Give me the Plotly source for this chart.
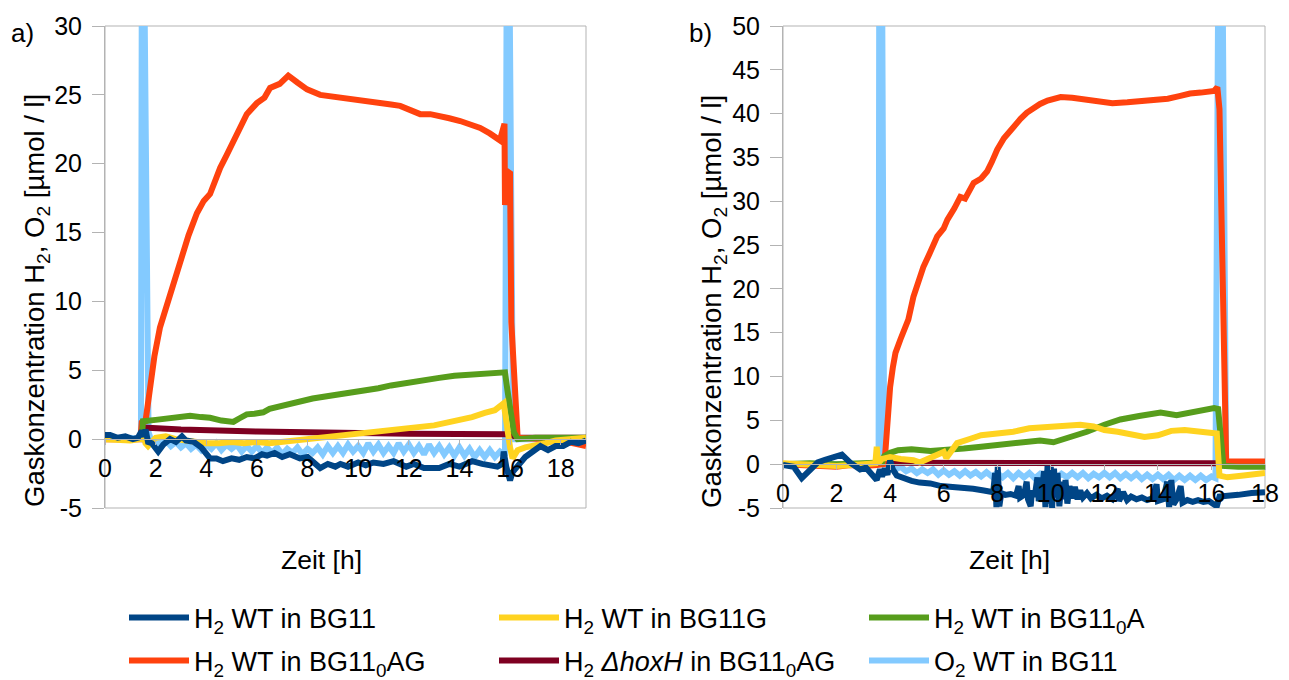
import plotly.graph_objects as go

# ---------------- data: panel a) ----------------
a_bg11_t = [0.0, 0.2, 0.5, 0.8, 1.1, 1.3, 1.45, 1.55, 1.6, 1.7, 1.85, 2.1, 2.3, 2.57, 2.8, 3.04, 3.2, 3.5, 3.8,
            4.15, 4.4, 4.66, 5.0, 5.3, 5.6, 5.9, 6.2, 6.4, 6.7, 7.0, 7.3, 7.7, 8.0, 8.5, 8.8, 9.1, 9.3, 9.6,
            10.0, 10.3, 10.6, 11.0, 11.4, 11.9, 12.2, 12.6, 13.2, 13.6, 14.0, 14.5, 14.9, 15.2, 15.5, 15.7,
            15.75, 15.85, 16.0, 16.1, 16.3, 16.6, 16.9, 17.2, 17.5, 17.8, 18.1, 18.4, 18.7, 19.0]
a_bg11_v = [0.3, 0.3, 0.1, 0.2, 0.0, 0.1, 0.6, 0.2, 0.7, -0.2, -0.3, -0.9, -0.4, 0.0, -0.2, 0.2, -0.1, -0.2, -0.6,
            -1.4, -1.4, -1.6, -1.4, -1.5, -1.3, -1.4, -1.1, -1.2, -1.0, -1.3, -1.1, -1.4, -1.3, -2.1, -1.8, -2.0,
            -1.8, -2.0, -1.7, -1.9, -1.7, -1.8, -1.6, -2.0, -1.8, -2.1, -2.1, -1.8, -2.0, -1.6, -1.8, -1.9, -2.0,
            -1.8, -0.9, -2.0, -3.0, -2.4, -2.0, -1.3, -0.9, -0.5, -0.8, -0.5, -0.5, -0.2, -0.3, -0.1]

a_bg11g_t = [0.0, 0.5, 1.0, 1.4, 1.5, 1.6, 1.7, 2.0, 2.4, 2.8, 3.2, 3.6, 4.0, 4.5, 5.0, 5.5, 6.0, 6.5, 7.0, 7.5,
             8.0, 8.5, 9.0, 9.5, 10.0, 10.5, 11.0, 11.5, 12.0, 12.5, 13.0, 13.5, 14.0, 14.5, 15.0, 15.4, 15.75,
             15.85, 16.0, 16.1, 16.3, 16.6, 17.0, 17.4, 17.8, 18.2, 18.6, 19.0]
a_bg11g_v = [0.0, -0.1, -0.1, 0.0, 0.5, -0.3, -0.5, 0.1, 0.2, 0.0, -0.1, -0.2, -0.3, -0.3, -0.2, -0.3, -0.2, -0.3,
             -0.2, -0.1, -0.1, 0.0, 0.1, 0.2, 0.3, 0.4, 0.5, 0.6, 0.7, 0.85, 1.0, 1.2, 1.35, 1.6, 1.9, 2.1, 2.6,
             1.0, -0.6, -1.4, -0.8, -0.6, -0.5, -0.3, -0.1, 0.0, 0.1, 0.1]

a_bg110a_t = [1.45, 1.5, 2.0, 2.4, 2.9, 3.36, 3.8, 4.15, 4.6, 5.07, 5.3, 5.6, 5.9, 6.25, 6.5, 6.9, 7.3, 7.7, 8.2,
              8.7, 9.3, 9.8, 10.3, 10.8, 11.3, 11.9, 12.5, 13.2, 13.8, 14.5, 15.2, 15.8, 15.9, 16.0, 16.15, 16.3,
              17.0, 18.0, 19.0]
a_bg110a_v = [0.0, 1.3, 1.4, 1.5, 1.65, 1.7, 1.6, 1.55, 1.35, 1.25, 1.5, 1.8, 1.85, 1.95, 2.2, 2.4, 2.6, 2.8,
              2.95, 3.1, 3.25, 3.4, 3.55, 3.7, 3.9, 4.1, 4.3, 4.45, 4.6, 4.7, 4.8, 4.85, 3.5, 2.0, 0.5, 0.0, 0.1,
              0.1, 0.1]

a_bg110ag_t = [0.0, 0.5, 1.0, 1.4, 1.45, 1.6, 1.78, 1.95, 2.17, 2.4, 2.57, 2.8, 3.04, 3.3, 3.63, 3.9, 4.15, 4.35,
               4.55, 4.8, 5.07, 5.3, 5.6, 5.8, 6.0, 6.3, 6.52, 6.9, 7.24, 7.6, 7.98, 8.5, 8.9, 9.29, 9.7, 10.08,
               10.5, 10.87, 11.3, 11.66, 12.05, 12.45, 12.85, 13.24, 13.6, 14.03, 14.4, 14.82, 15.2, 15.6, 15.78,
               15.8, 15.85, 16.0, 16.05, 16.3, 16.6, 17.0, 17.5, 18.0, 18.5, 19.0]
a_bg110ag_v = [0.0, 0.0, 0.0, 0.0, 1.2, 1.3, 3.7, 6.0, 8.1, 9.5, 10.6, 12.0, 13.5, 14.8, 16.4, 17.3, 17.8, 18.8,
               19.7, 20.6, 21.7, 22.5, 23.6, 24.0, 24.4, 24.8, 25.5, 25.8, 26.4, 25.9, 25.4, 25.0, 24.9, 24.9,
               24.8, 24.7, 24.6, 24.5, 24.3, 24.2, 23.9, 23.6, 23.6, 23.5, 23.3, 23.1, 22.9, 22.6, 22.2, 21.7,
               22.9, 17.0, 19.5, 19.3, 8.5, 0.1, 0.1, 0.0, 0.0, -0.1, -0.3, -0.5]

a_hoxh_t = [1.5, 3.0, 6.0, 9.0, 12.0, 15.9, 16.0, 16.3, 19.0]
a_hoxh_v = [0.85, 0.7, 0.55, 0.45, 0.4, 0.35, 0.35, 0.1, 0.1]

a_o2_t = [0.0, 0.5, 1.0, 1.42, 1.46, 1.52, 1.72, 1.85, 2.0, 2.2, 2.4, 2.6, 2.8, 3.0, 3.2, 3.4, 3.6, 3.8, 4.0,
          4.2, 4.4, 4.6, 4.8, 5.0, 5.2, 5.4, 5.6, 5.8, 6.0, 6.2, 6.4, 6.6, 6.8, 7.0, 7.2, 7.4, 7.6, 7.8, 8.0,
          8.2, 8.4, 8.6, 8.8, 9.0, 9.2, 9.4, 9.6, 9.8, 10.0, 10.2, 10.4, 10.6, 10.8, 11.0, 11.2, 11.4, 11.6,
          11.8, 12.0, 12.2, 12.4, 12.6, 12.8, 13.0, 13.2, 13.4, 13.6, 13.8, 14.0, 14.2, 14.4, 14.6, 14.8, 15.0,
          15.2, 15.4, 15.6, 15.8, 15.88, 15.95, 16.12, 16.3, 17.0, 18.0, 19.0]
a_o2_v = [0.1, 0.0, 0.1, 0.0, 40.0, 40.0, 0.5, -0.2, 0.0, -0.4, -0.1, -0.5, -0.2, -0.6, -0.3, -0.7, -0.4, -0.8,
          -0.4, -0.7, -0.3, -0.8, -0.4, -0.7, -0.4, -0.9, -0.5, -0.9, -0.5, -1.0, -0.6, -1.0, -0.6, -1.1, -0.7,
          -1.0, -0.6, -1.1, -0.7, -1.0, -0.6, -1.1, -0.5, -1.0, -0.5, -1.0, -0.4, -0.9, -0.5, -1.0, -0.3, -0.9,
          -0.4, -1.0, -0.5, -1.0, -0.3, -0.9, -0.4, -1.0, -0.5, -1.1, -0.4, -1.0, -0.5, -1.1, -0.6, -1.2, -0.6,
          -1.2, -0.7, -1.3, -0.8, -1.3, -0.8, -1.3, -0.9, -1.2, 40.0, 40.0, 0.0, 0.0, 0.0, 0.0, 0.0]

# ---------------- data: panel b) ----------------
b_bg11_t = [0.0, 0.4, 0.7, 1.0, 1.3, 1.57, 1.9, 2.2, 2.5, 2.88, 3.1, 3.33, 3.5, 3.62, 3.7, 3.8, 3.9, 4.0, 4.1,
            4.25, 4.5, 4.8, 5.1, 5.5, 5.9, 6.3, 6.75, 7.1, 7.5, 7.7, 7.85, 7.92, 7.97, 8.02, 8.08, 8.15, 8.3,
            8.5, 8.7, 8.8, 8.85, 9.0, 9.1, 9.15, 9.25, 9.3, 9.4, 9.5, 9.55, 9.65, 9.75, 9.8, 9.88, 9.93, 10.0,
            10.05, 10.12, 10.18, 10.25, 10.32, 10.4, 10.48, 10.55, 10.62, 10.7, 10.8, 10.9, 11.0, 11.1, 11.2,
            11.35, 11.5, 11.7, 11.9, 12.1, 12.3, 12.5, 12.55, 12.7, 12.85, 13.0, 13.2, 13.4, 13.6, 13.8, 13.95,
            14.0, 14.2, 14.35, 14.42, 14.5, 14.58, 14.7, 14.85, 14.92, 15.1, 15.3, 15.5, 15.7, 15.9, 16.05, 16.2,
            16.3, 16.5, 17.0, 17.5, 18.0]
b_bg11_v = [-0.1, -0.3, -1.6, -0.7, 0.2, 0.5, 0.9, 1.1, 0.2, -0.6, -0.4, -1.1, -1.8, -0.6, -1.4, -0.5, -1.2, 0.4,
            -0.6, -1.3, -1.6, -1.9, -2.1, -2.2, -2.5, -2.6, -2.6, -2.8, -3.0, -3.1, -3.2, -1.0, -4.9, -0.3, -4.8,
            -3.3, -3.5, -3.4, -3.6, -2.5, -3.8, -3.5, -2.0, -4.0, -4.8, -3.0, -3.7, -1.5, -4.2, -3.6, -0.8, -4.9,
            -0.2, -4.5, -0.3, -5.0, -0.5, -3.8, -1.0, -4.8, -2.0, -4.0, -1.8, -4.5, -2.5, -3.9, -2.6, -4.0, -3.0,
            -3.8, -3.3, -3.9, -3.5, -3.9, -3.6, -4.0, -2.8, -4.2, -3.2, -4.1, -3.7, -4.0, -3.8, -4.1, -3.9, -2.3,
            -4.2, -4.0, -2.0, -4.9, -1.8, -4.6, -4.0, -2.5, -4.4, -4.1, -4.3, -4.1, -4.3, -4.2, -4.5, -4.8, -3.7,
            -3.6, -3.5, -3.3, -3.2]

b_bg11g_t = [0.0, 1.0, 2.0, 3.0, 3.45, 3.5, 3.55, 3.7, 4.0, 4.4, 4.87, 5.1, 5.5, 5.8, 6.0, 6.1, 6.5, 7.0, 7.4,
             8.0, 8.6, 9.2, 9.7, 10.1, 10.6, 11.1, 11.6, 12.0, 12.5, 13.0, 13.5, 14.0, 14.5, 15.0, 15.5, 16.1,
             16.2, 16.3, 16.6, 17.2, 18.0]
b_bg11g_v = [0.1, 0.0, -0.2, 0.0, 0.1, 2.0, 0.1, 0.6, 0.8, 0.6, 0.45, 0.2, 0.7, 1.0, 1.4, 0.7, 2.4, 2.9, 3.3,
             3.5, 3.7, 4.1, 4.2, 4.2, 4.4, 4.5, 4.3, 3.9, 3.7, 3.4, 3.1, 3.3, 3.8, 3.9, 3.7, 3.6, 3.5, -1.3,
             -1.5, -1.3, -1.0]

b_bg110a_t = [0.0, 1.0, 2.0, 3.0, 3.7, 3.78, 4.0, 4.3, 4.8, 5.5, 6.1, 6.75, 7.4, 8.0, 8.6, 9.2, 9.6, 10.1, 10.7,
              11.35, 12.0, 12.6, 13.3, 14.1, 14.7, 15.3, 16.1, 16.25, 16.45, 17.0, 18.0]
b_bg110a_v = [0.0, 0.1, 0.0, 0.1, 0.2, 0.9, 1.3, 1.6, 1.7, 1.5, 1.6, 1.8, 2.0, 2.2, 2.5, 2.7, 2.7, 2.5, 3.0,
              3.7, 4.5, 5.1, 5.5, 5.9, 5.6, 5.9, 6.4, 6.3, -0.2, -0.3, -0.3]

b_bg110ag_t = [0.0, 1.0, 2.0, 2.5, 3.0, 3.5, 3.75, 3.82, 3.9, 4.0, 4.1, 4.2, 4.38, 4.55, 4.68, 4.87, 5.05, 5.24,
               5.5, 5.76, 6.0, 6.14, 6.4, 6.62, 6.8, 7.12, 7.4, 7.62, 7.8, 8.0, 8.25, 8.5, 8.87, 9.1, 9.36, 9.6,
               9.88, 10.37, 10.8, 11.1, 11.5, 11.86, 12.3, 12.86, 13.2, 13.6, 14.0, 14.37, 14.8, 15.2, 15.6, 16.1,
               16.22, 16.3, 16.55, 17.0, 18.0]
b_bg110ag_v = [0.0, -0.1, -0.3, -0.1, -0.2, -0.1, 0.0, 1.3, 5.0, 8.8, 11.0, 12.7, 14.2, 15.4, 16.5, 19.1, 20.8,
               22.5, 24.2, 26.0, 26.9, 27.9, 29.2, 30.5, 30.3, 32.1, 32.6, 33.4, 34.5, 35.9, 37.2, 38.2, 39.4,
               40.1, 40.7, 41.1, 41.5, 41.9, 41.8, 41.7, 41.5, 41.3, 41.2, 41.3, 41.4, 41.5, 41.6, 41.7, 42.0,
               42.3, 42.4, 42.6, 43.0, 40.5, 0.3, 0.3, 0.3]

b_hoxh_t = [3.75, 8.0, 12.0, 16.2]
b_hoxh_v = [0.15, 0.1, 0.1, 0.1]

b_o2_t = [0.0, 1.0, 2.0, 3.0, 3.57, 3.6, 3.68, 3.78, 4.0, 4.2, 4.4, 4.6, 4.8, 5.0, 5.2, 5.4, 5.6, 5.8, 6.0, 6.2,
          6.4, 6.6, 6.8, 7.0, 7.2, 7.4, 7.6, 7.8, 8.0, 8.2, 8.4, 8.6, 8.8, 9.0, 9.2, 9.4, 9.6, 9.8, 10.0, 10.2,
          10.4, 10.6, 10.8, 11.0, 11.2, 11.4, 11.6, 11.8, 12.0, 12.2, 12.4, 12.6, 12.8, 13.0, 13.2, 13.4, 13.6,
          13.8, 14.0, 14.2, 14.4, 14.6, 14.8, 15.0, 15.2, 15.4, 15.6, 15.8, 16.0, 16.15, 16.28, 16.38, 16.55,
          17.0, 18.0]
b_o2_v = [0.0, 0.0, 0.0, 0.0, 0.0, 70.0, 70.0, 0.5, -0.2, -0.6, -0.3, -0.8, -0.5, -1.0, -0.6, -1.0, -0.6, -1.2,
          -0.7, -1.2, -0.8, -1.3, -0.8, -1.3, -0.9, -1.4, -0.9, -1.4, -1.0, -1.5, -1.0, -1.6, -1.0, -1.5, -1.0,
          -1.6, -1.1, -1.6, -1.0, -1.6, -1.1, -1.5, -1.0, -1.5, -1.0, -1.6, -1.1, -1.5, -1.0, -1.5, -1.0, -1.6,
          -1.1, -1.6, -1.1, -1.7, -1.2, -1.7, -1.2, -1.7, -1.2, -1.8, -1.3, -1.8, -1.3, -1.8, -1.3, -1.8, -1.4,
          -1.6, 70.0, 70.0, 0.0, 0.0, 0.0]

series_names = [
    "H<sub>2</sub> WT in BG11",
    "H<sub>2</sub> WT in BG11G",
    "H<sub>2</sub> WT in BG11<sub>0</sub>A",
    "H<sub>2</sub> WT in BG11<sub>0</sub>AG",
    "H<sub>2</sub> <i>ΔhoxH</i> in BG11<sub>0</sub>AG",
    "O<sub>2</sub> WT in BG11",
]
series_colors = ["#004586", "#ffd320", "#579d1c", "#ff420e", "#7e0021", "#83caff"]

y_ticks_a = [-5, 0, 5, 10, 15, 20, 25, 30]
y_ticks_b = [-5, 0, 5, 10, 15, 20, 25, 30, 35, 40, 45, 50]
x_ticks_a = [0, 2, 4, 6, 8, 10, 12, 14, 16, 18]
x_ticks_b = [0, 2, 4, 6, 8, 10, 12, 14, 16, 18]
y_range_a = [-5, 30]
y_range_b = [-5, 50]
x_range_a = [0, 19]
x_range_b = [0, 18]

panel_a = [(a_bg11_t, a_bg11_v), (a_bg11g_t, a_bg11g_v), (a_bg110a_t, a_bg110a_v),
           (a_bg110ag_t, a_bg110ag_v), (a_hoxh_t, a_hoxh_v), (a_o2_t, a_o2_v)]
panel_b = [(b_bg11_t, b_bg11_v), (b_bg11g_t, b_bg11g_v), (b_bg110a_t, b_bg110a_v),
           (b_bg110ag_t, b_bg110ag_v), (b_hoxh_t, b_hoxh_v), (b_o2_t, b_o2_v)]

# page has an 8 px body margin: figure is sized/positioned to compensate
OFF = 8
W, H = 1289 - OFF, 680 - OFF
FONT = "Liberation Sans, Arial, sans-serif"
GRAY = "#b3b3b3"


def px(sx):
    return (sx - OFF) / W


def py(sy):
    return 1 - (sy - OFF) / H


fig = go.Figure()

# draw order: first series on top -> add in reverse
for i in reversed(range(6)):
    for pi, (panel, xa, ya) in enumerate([(panel_a, "x", "y"), (panel_b, "x2", "y2")]):
        t, v = panel[i]
        fig.add_trace(go.Scatter(
            x=t, y=v, mode="lines", xaxis=xa, yaxis=ya,
            name=series_names[i],
            line=dict(color=series_colors[i], width=6),
            showlegend=(pi == 0),
            legend=("legend" if i < 3 else "legend2"),
            legendrank=i + 1,
            legendgroup=f"s{i}",
            hoverinfo="skip",
        ))

ydom = [py(508), py(26)]
xdom_a = [px(105), px(586)]
xdom_b = [px(783), px(1265)]


def zero_pos(yr):
    return ydom[0] + (0 - yr[0]) / (yr[1] - yr[0]) * (ydom[1] - ydom[0])


def labels(vals):
    return [str(v) for v in vals]


tickfont = dict(family=FONT, size=25, color="black")
common_x = dict(showgrid=False, zeroline=False, showline=True, linecolor=GRAY, linewidth=1,
                ticks="outside", ticklen=5, tickcolor=GRAY, tickmode="array",
                tickfont=tickfont, anchor="free", ticklabelstandoff=2, automargin=False)
common_y = dict(showgrid=False, zeroline=False, showline=True, linecolor=GRAY, linewidth=1,
                ticks="outside", ticklen=12, tickcolor=GRAY, tickmode="array", tickfont=tickfont,
                domain=ydom, ticklabelstandoff=5, automargin=False)

legend_common = dict(orientation="h", x=px(124), xanchor="left", yanchor="middle",
                     entrywidth=295, entrywidthmode="pixels", itemwidth=60,
                     font=dict(family=FONT, size=27, color="black"), bgcolor="rgba(0,0,0,0)",
                     traceorder="normal")

fig.update_layout(
    width=W, height=H,
    margin=dict(l=0, r=0, t=0, b=0, autoexpand=False),
    paper_bgcolor="white", plot_bgcolor="white",
    font=dict(family=FONT, size=25, color="black"),
    xaxis=dict(domain=xdom_a, range=x_range_a, position=zero_pos(y_range_a),
               tickvals=x_ticks_a, ticktext=labels(x_ticks_a), **common_x),
    yaxis=dict(range=y_range_a, anchor="x", tickvals=y_ticks_a, ticktext=labels(y_ticks_a), **common_y),
    xaxis2=dict(domain=xdom_b, range=x_range_b, position=zero_pos(y_range_b),
                tickvals=x_ticks_b, ticktext=labels(x_ticks_b), **common_x),
    yaxis2=dict(range=y_range_b, anchor="x2", tickvals=y_ticks_b, ticktext=labels(y_ticks_b), **common_y),
    legend=dict(y=py(618), **legend_common),
    legend2=dict(y=py(661), **legend_common),
    showlegend=True,
)

# plot-area frames
for xr, yr in [("x domain", "y domain"), ("x2 domain", "y2 domain")]:
    fig.add_shape(type="rect", xref=xr, yref=yr, x0=0, x1=1, y0=0, y1=1,
                  line=dict(color=GRAY, width=1), layer="below")

ytitle = "Gaskonzentration H<sub>2</sub>, O<sub>2</sub> [µmol / l]"


def ann(size):
    return dict(showarrow=False, font=dict(family=FONT, size=size, color="black"),
                xref="paper", yref="paper", xanchor="center", yanchor="middle")


fig.add_annotation(text="a)", x=px(22), y=py(33), **ann(26))
fig.add_annotation(text="b)", x=px(700), y=py(33), **ann(26))
fig.add_annotation(text=ytitle, x=px(36), y=py(301), textangle=-90, **ann(27.5))
fig.add_annotation(text=ytitle, x=px(713), y=py(301), textangle=-90, **ann(27.5))
fig.add_annotation(text="Zeit [h]", x=px(321), y=py(560), **ann(26.5))
fig.add_annotation(text="Zeit [h]", x=px(1009), y=py(560), **ann(26.5))

fig.write_html("out.html")
